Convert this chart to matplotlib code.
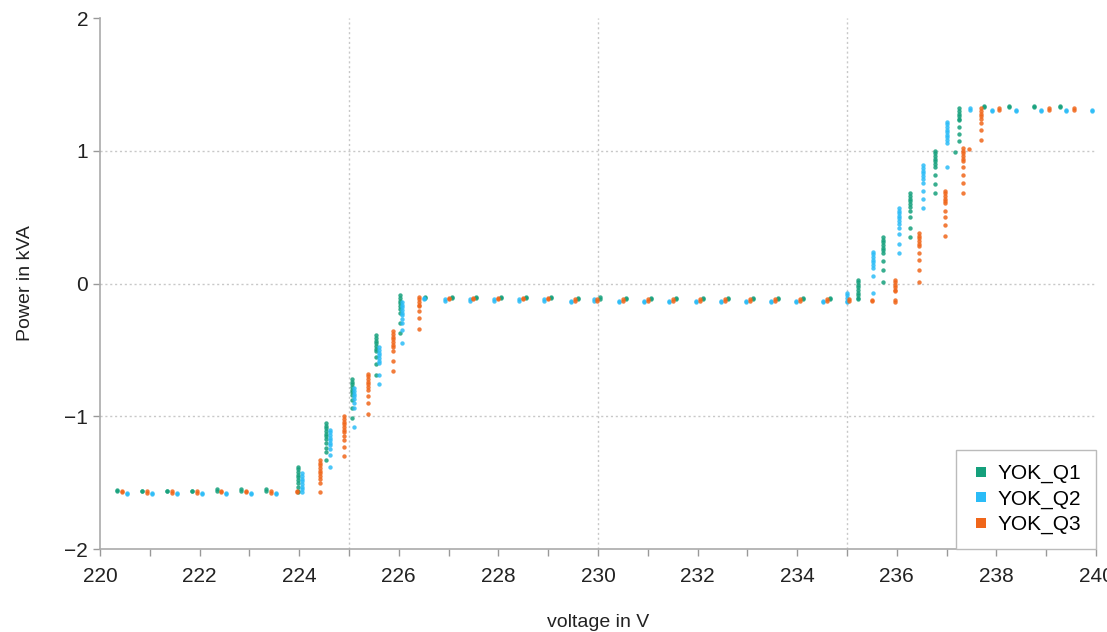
import matplotlib.pyplot as plt
from matplotlib.lines import Line2D
from matplotlib.ticker import MultipleLocator
import numpy as np

# voltage of each reading group and the power readings in that group (kVA)
q1_volt = [220.34, 220.84, 221.34, 221.84, 222.34, 222.84, 223.34, 223.98, 224.54, 225.06,
           225.54, 226.02, 226.53, 227.06, 227.55, 228.05, 228.55, 229.06, 229.6, 230.05,
           230.56, 231.06, 231.56, 232.11, 232.61, 233.11, 233.61, 234.12, 234.66, 235.22,
           235.72, 236.27, 236.77, 237.17, 237.25, 237.75, 238.25, 238.76, 239.28]
q1_power = [[-1.56, -1.555], [-1.56, -1.565], [-1.56, -1.565], [-1.56, -1.565], [-1.55, -1.56],
            [-1.55, -1.56], [-1.55, -1.565],
            [-1.38, -1.40, -1.42, -1.44, -1.46, -1.48, -1.50, -1.53, -1.56, -1.57],
            [-1.05, -1.07, -1.09, -1.11, -1.13, -1.15, -1.17, -1.20, -1.24, -1.27, -1.33],
            [-0.72, -0.74, -0.76, -0.78, -0.80, -0.82, -0.84, -0.88, -0.94, -1.01],
            [-0.39, -0.41, -0.43, -0.45, -0.47, -0.49, -0.51, -0.55, -0.61, -0.69],
            [-0.09, -0.11, -0.13, -0.15, -0.17, -0.19, -0.22, -0.30, -0.37],
            [-0.10, -0.11], [-0.10, -0.11], [-0.10, -0.11], [-0.10, -0.11], [-0.10, -0.11],
            [-0.10, -0.11], [-0.11, -0.12], [-0.10, -0.12], [-0.11, -0.12], [-0.11, -0.12],
            [-0.11, -0.12], [-0.11, -0.12], [-0.11, -0.12], [-0.11, -0.12], [-0.11, -0.12],
            [-0.11, -0.12], [-0.11, -0.12],
            [0.03, 0.01, -0.01, -0.03, -0.05, -0.07, -0.09, -0.11, -0.12],
            [0.35, 0.33, 0.31, 0.29, 0.27, 0.25, 0.23, 0.17, 0.10, 0.01],
            [0.68, 0.66, 0.64, 0.62, 0.60, 0.58, 0.55, 0.50, 0.42, 0.35],
            [1.00, 0.98, 0.96, 0.94, 0.92, 0.90, 0.88, 0.82, 0.75, 0.68],
            [0.99],
            [1.32, 1.30, 1.28, 1.26, 1.24, 1.23, 1.18, 1.13, 1.07],
            [1.34, 1.33], [1.33, 1.34], [1.33, 1.34], [1.33, 1.34]]

q2_volt = [220.54, 221.04, 221.54, 222.04, 222.54, 223.04, 223.54, 224.06, 224.62, 225.10,
           225.60, 226.06, 226.5, 226.92, 227.42, 227.92, 228.42, 228.92, 229.46, 229.92,
           230.42, 230.92, 231.42, 231.97, 232.47, 232.97, 233.47, 233.98, 234.52, 235.0,
           235.52, 236.04, 236.53, 237.01, 237.47, 237.91, 238.39, 238.90, 239.40, 239.92]
q2_power = [[-1.575, -1.585], [-1.575, -1.585], [-1.575, -1.585], [-1.58, -1.585], [-1.58, -1.585],
            [-1.575, -1.585], [-1.58, -1.585],
            [-1.43, -1.45, -1.47, -1.49, -1.51, -1.53, -1.55, -1.57],
            [-1.10, -1.12, -1.14, -1.16, -1.18, -1.20, -1.22, -1.25, -1.29, -1.38],
            [-0.79, -0.81, -0.83, -0.85, -0.87, -0.90, -0.94, -1.08],
            [-0.48, -0.50, -0.52, -0.54, -0.56, -0.58, -0.60, -0.69, -0.76],
            [-0.14, -0.16, -0.18, -0.20, -0.22, -0.24, -0.27, -0.30, -0.35, -0.45],
            [-0.11, -0.12], [-0.12, -0.13], [-0.12, -0.13], [-0.12, -0.13], [-0.12, -0.13],
            [-0.12, -0.13], [-0.13, -0.14], [-0.12, -0.13], [-0.13, -0.14], [-0.13, -0.14],
            [-0.13, -0.14], [-0.13, -0.14], [-0.13, -0.14], [-0.13, -0.14], [-0.13, -0.14],
            [-0.13, -0.14], [-0.13, -0.14],
            [-0.07, -0.09, -0.11, -0.13, -0.14],
            [0.24, 0.22, 0.20, 0.18, 0.16, 0.14, 0.12, 0.06, -0.07],
            [0.57, 0.55, 0.53, 0.51, 0.49, 0.47, 0.45, 0.42, 0.37, 0.30, 0.23],
            [0.89, 0.87, 0.85, 0.83, 0.81, 0.79, 0.76, 0.70, 0.64, 0.57],
            [1.22, 1.20, 1.18, 1.16, 1.14, 1.12, 1.10, 1.08, 1.06, 0.88],
            [1.32, 1.31],
            [1.31, 1.30], [1.30, 1.31], [1.30, 1.31], [1.30, 1.31], [1.30, 1.31]]

q3_volt = [220.44, 220.94, 221.44, 221.94, 222.44, 222.94, 223.44, 223.96, 224.42, 224.90,
           225.38, 225.88, 226.41, 227.0, 227.5, 228.0, 228.5, 229.0, 229.54, 229.98,
           230.5, 231.0, 231.5, 232.05, 232.55, 233.05, 233.55, 234.06, 234.6, 235.04,
           235.50, 235.96, 236.45, 236.97, 237.33, 237.45, 237.70, 238.05, 239.06, 239.56]
q3_power = [[-1.565, -1.57], [-1.565, -1.575], [-1.565, -1.575], [-1.565, -1.575], [-1.56, -1.57],
            [-1.56, -1.57], [-1.565, -1.575],
            [-1.56, -1.57],
            [-1.33, -1.35, -1.37, -1.39, -1.41, -1.43, -1.45, -1.47, -1.50, -1.57],
            [-1.00, -1.02, -1.04, -1.06, -1.08, -1.10, -1.12, -1.15, -1.18, -1.23, -1.30],
            [-0.68, -0.70, -0.72, -0.74, -0.76, -0.78, -0.80, -0.85, -0.90, -0.98],
            [-0.36, -0.38, -0.40, -0.42, -0.44, -0.46, -0.48, -0.51, -0.58, -0.66],
            [-0.10, -0.12, -0.14, -0.16, -0.17, -0.21, -0.26, -0.34],
            [-0.11, -0.12], [-0.11, -0.12], [-0.11, -0.12], [-0.11, -0.12], [-0.11, -0.12],
            [-0.12, -0.13], [-0.12, -0.13], [-0.12, -0.13], [-0.12, -0.13], [-0.12, -0.13],
            [-0.12, -0.13], [-0.12, -0.13], [-0.12, -0.13], [-0.12, -0.13], [-0.12, -0.13],
            [-0.12, -0.13], [-0.12, -0.13],
            [-0.125, -0.13],
            [0.03, 0.01, -0.01, -0.03, -0.05, -0.06, -0.125, -0.14],
            [0.38, 0.36, 0.34, 0.32, 0.30, 0.28, 0.23, 0.18, 0.10, 0.01],
            [0.70, 0.68, 0.66, 0.64, 0.62, 0.61, 0.55, 0.50, 0.44, 0.36],
            [1.02, 1.00, 0.98, 0.96, 0.94, 0.92, 0.88, 0.82, 0.76, 0.68],
            [1.01],
            [1.32, 1.30, 1.28, 1.26, 1.24, 1.21, 1.16, 1.08],
            [1.31, 1.32], [1.32, 1.31], [1.32, 1.31], [1.32, 1.31]]

series = ['YOK_Q1', 'YOK_Q2', 'YOK_Q3']
colors = ['#15a07c', '#2bbcf7', '#f0661a']


def flatten(volt, power):
    xs, ys = [], []
    for v, ps in zip(volt, power):
        xs.extend([v] * len(ps))
        ys.extend(ps)
    return np.array(xs), np.array(ys)


plt.rcParams['font.family'] = ['Liberation Sans', 'DejaVu Sans']
fig = plt.figure(figsize=(11.07, 6.32), dpi=100)
ax = fig.add_axes([0.0903, 0.1313, 0.8998, 0.8402])

for name, volt, power, c in zip(series, [q1_volt, q2_volt, q3_volt],
                                [q1_power, q2_power, q3_power], colors):
    x, y = flatten(volt, power)
    ax.scatter(x, y, s=10, marker='o', color=c, alpha=0.85, linewidths=0, zorder=3)

# dotted grid only at every 5 V and every 1 kVA inside the box
for gx in [225, 230, 235]:
    ax.axvline(gx, color='#c8c8c8', lw=1, ls=(0, (1.5, 2)), zorder=1)
for gy in [-1, 0, 1]:
    ax.axhline(gy, color='#c8c8c8', lw=1, ls=(0, (1.5, 2)), zorder=1)

ax.set_xlim(220, 240)
ax.set_ylim(-2, 2)
ax.xaxis.set_major_locator(MultipleLocator(2))
ax.xaxis.set_minor_locator(MultipleLocator(1))
ax.yaxis.set_major_locator(MultipleLocator(1))
ax.tick_params(axis='both', which='both', colors='#999999', labelcolor='#222222',
               labelsize=15, length=5, width=1)
ax.tick_params(axis='x', pad=8)
for side in ['top', 'right']:
    ax.spines[side].set_visible(False)
for side in ['left', 'bottom']:
    ax.spines[side].set_color('#aaaaaa')
    ax.spines[side].set_linewidth(1.2)

ax.set_xlabel('voltage in V', fontsize=14, labelpad=20, color='#222222')
ax.set_ylabel('Power in kVA', fontsize=14, labelpad=22, color='#222222')

handles = [Line2D([], [], ls='none', marker='s', markersize=6.5, color=c,
                  markeredgewidth=0) for c in colors]
leg = ax.legend(handles, series, loc='lower right', borderaxespad=0, fontsize=15,
                fancybox=False, framealpha=1, edgecolor='#bbbbbb',
                handletextpad=0.3, borderpad=0.7, labelspacing=0.3, handlelength=1.0)
leg.get_frame().set_linewidth(1)

fig.savefig('out.png', dpi=100)
